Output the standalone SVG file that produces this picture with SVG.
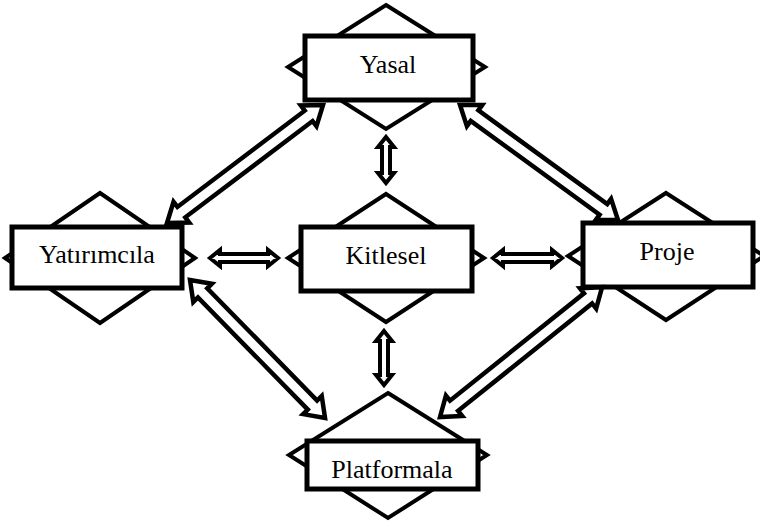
<svg xmlns="http://www.w3.org/2000/svg" width="760" height="524" viewBox="0 0 760 524">
<style>
.dia{fill:#fff;stroke:#000;stroke-width:4;stroke-linejoin:miter}
.box{fill:#fff;stroke:#000;stroke-width:5}
.lbl{font-family:"Liberation Serif","Times New Roman",serif;font-size:26px;fill:#000;text-anchor:middle}
.arr{fill:#fff;stroke:#000;stroke-width:4.5;stroke-linejoin:miter}
.arrs{fill:#fff;stroke:#000;stroke-width:4;stroke-linejoin:miter}
</style>
<rect width="760" height="524" fill="#fff"/>
<g id="yasal">
<polygon class="dia" points="386,5 485,67 386,129 288,67"/>
<rect class="box" x="305" y="36" width="168" height="64"/>
<text class="lbl" x="388" y="73">Yasal</text>
</g>
<g id="yatirimcila">
<polygon class="dia" points="100,193 195,258 100,323 5,258"/>
<rect class="box" x="12" y="227" width="170" height="61"/>
<text class="lbl" x="97" y="263">Yatırımcıla</text>
</g>
<g id="kitlesel">
<polygon class="dia" points="386,194 484,258 386,322 288,258"/>
<rect class="box" x="301" y="227" width="171" height="64"/>
<text class="lbl" x="386" y="264">Kitlesel</text>
</g>
<g id="proje">
<polygon class="dia" points="666,193 764,256 666,320 568,256"/>
<rect class="box" x="583" y="223" width="170" height="64"/>
<text class="lbl" x="667" y="260">Proje</text>
</g>
<g id="platformala">
<polygon class="dia" points="388,393 487,455 388,518 289,455"/>
<rect class="box" x="307" y="441" width="171" height="48"/>
<text class="lbl" x="392" y="478">Platformala</text>
</g>
<g id="connectors">
<polygon class="arr" transform="translate(167,223) rotate(-37.1)" points="0,0 18,-13 18,-6.5 177.6,-6.5 177.6,-13 195.6,0 177.6,13 177.6,6.5 18,6.5 18,13"/>
<polygon class="arr" transform="translate(460,105) rotate(36.05)" points="0,0 18,-13 18,-6.5 177.4,-6.5 177.4,-13 195.4,0 177.4,13 177.4,6.5 18,6.5 18,13"/>
<polygon class="arr" transform="translate(190,280) rotate(45.6)" points="0,0 18,-13 18,-6.5 175,-6.5 175,-13 193,0 175,13 175,6.5 18,6.5 18,13"/>
<polygon class="arr" transform="translate(440,417) rotate(-38.7)" points="0,0 18,-13 18,-6.5 189.7,-6.5 189.7,-13 207.7,0 189.7,13 189.7,6.5 18,6.5 18,13"/>
<polygon class="arrs" transform="translate(210,258)" points="0,0 10,-8 10,-4 58,-4 58,-8 68,0 58,8 58,4 10,4 10,8"/>
<polygon class="arrs" transform="translate(493,258)" points="0,0 10,-8 10,-4 59,-4 59,-8 69,0 59,8 59,4 10,4 10,8"/>
<polygon class="arrs" transform="translate(386,137) rotate(90)" points="0,0 10,-8 10,-4 36,-4 36,-8 46,0 36,8 36,4 10,4 10,8"/>
<polygon class="arrs" transform="translate(384,331) rotate(90)" points="0,0 10,-8 10,-4 44,-4 44,-8 54,0 44,8 44,4 10,4 10,8"/>
</g>
</svg>
